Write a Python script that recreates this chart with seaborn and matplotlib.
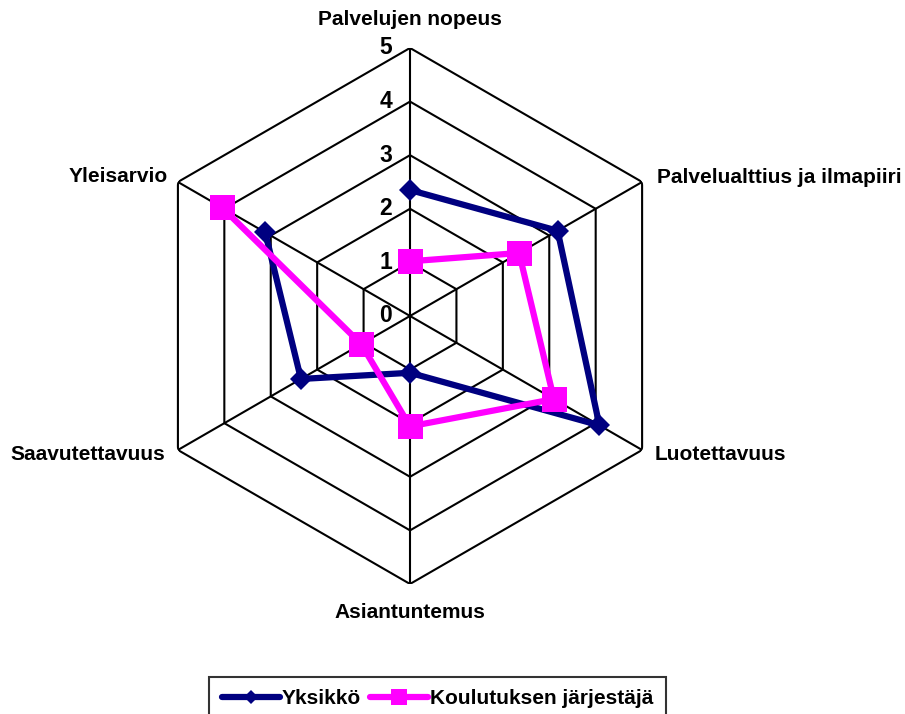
import numpy as np
import pandas as pd
import matplotlib
matplotlib.use("Agg")
import matplotlib.pyplot as plt
import seaborn as sns
from matplotlib.lines import Line2D
from matplotlib import transforms

# Categories (clockwise from top) and values
categories = ["Palvelujen nopeus", "Palvelualttius ja ilmapiiri", "Luotettavuus",
              "Asiantuntemus", "Saavutettavuus", "Yleisarvio"]
yksikko = [2.35, 3.18, 4.08, 1.06, 2.35, 3.12]
koulutus = [1.02, 2.35, 3.1, 2.06, 1.05, 4.05]
levels = [0, 1, 2, 3, 4, 5]
series_names = ["Yksikkö", "Koulutuksen järjestäjä"]

sns.set_style("white")
plt.rcParams["font.family"] = ["Liberation Sans", "DejaVu Sans"]
plt.rcParams["font.weight"] = "bold"
plt.rcParams["text.color"] = "black"

n = len(categories)
angles = np.linspace(0, 2 * np.pi, n, endpoint=False)
closed = np.append(angles, angles[0])

fig = plt.figure(figsize=(9.05, 7.14), dpi=100)
ax = fig.add_axes([0.1569, 0.1821, 0.5923, 0.7507], projection="polar")
ax.set_theta_zero_location("N")
ax.set_theta_direction(-1)
ax.set_ylim(0, 5)
ax.grid(False)
ax.spines["polar"].set_visible(False)
ax.set_xticks([])
ax.set_yticks([])

# hexagon grid + spokes
for lvl in levels[1:]:
    ax.plot(closed, [lvl] * (n + 1), color="black", lw=1.5, zorder=1)
for a in angles:
    ax.plot([a, a], [0, 5], color="black", lw=1.5, zorder=1)

# data series
df = pd.DataFrame({
    "angle": np.concatenate([closed, closed]),
    "value": yksikko + yksikko[:1] + koulutus + koulutus[:1],
    "series": [series_names[0]] * (n + 1) + [series_names[1]] * (n + 1),
})
styles = {
    series_names[0]: dict(color="#000080", marker="D", markersize=11),
    series_names[1]: dict(color="#FF00FF", marker="s", markersize=18),
}
for name in series_names:
    st = styles[name]
    sns.lineplot(data=df[df["series"] == name], x="angle", y="value", sort=False,
                 color=st["color"], marker=st["marker"], markersize=st["markersize"],
                 markeredgewidth=0, linewidth=4.5, ax=ax, zorder=3, clip_on=False)
ax.set_xlabel("")
ax.set_ylabel("")
if ax.get_legend():
    ax.get_legend().remove()

# radial level labels
off = transforms.offset_copy(ax.transData, fig=fig, x=-18, y=0, units="dots")
for lvl in levels:
    ax.text(0, lvl, str(lvl), transform=off, ha="right", va="center",
            fontsize=16.5, fontweight="bold", color="black")

# category labels
label_offsets = [(0, 28, "center"), (15, 4, "left"), (13, -5, "left"),
                 (0, -29, "center"), (-13, -5, "right"), (-10, 5, "right")]
for a, cat, (dx, dy, ha) in zip(angles, categories, label_offsets):
    ax.annotate(cat, xy=(a, 5), xytext=(dx, dy), textcoords="offset pixels",
                ha=ha, va="center", fontsize=15, fontweight="bold", color="black",
                annotation_clip=False)

handles = [Line2D([], [], color="#000080", marker="D", markersize=7, lw=4.5, markeredgewidth=0),
           Line2D([], [], color="#FF00FF", marker="s", markersize=11, lw=4.5, markeredgewidth=0)]
leg = fig.legend(handles, series_names, loc="upper center", bbox_to_anchor=(0.4834, 0.052),
                 ncol=2, frameon=True, fancybox=False, edgecolor="black",
                 prop={"size": 15, "weight": "bold"}, handlelength=2.8,
                 handletextpad=0.1, columnspacing=0.4, borderpad=0.6, borderaxespad=0)
leg.get_frame().set_linewidth(1.5)
for t in leg.get_texts():
    t.set_color("black")

fig.savefig("out.png", dpi=100)
